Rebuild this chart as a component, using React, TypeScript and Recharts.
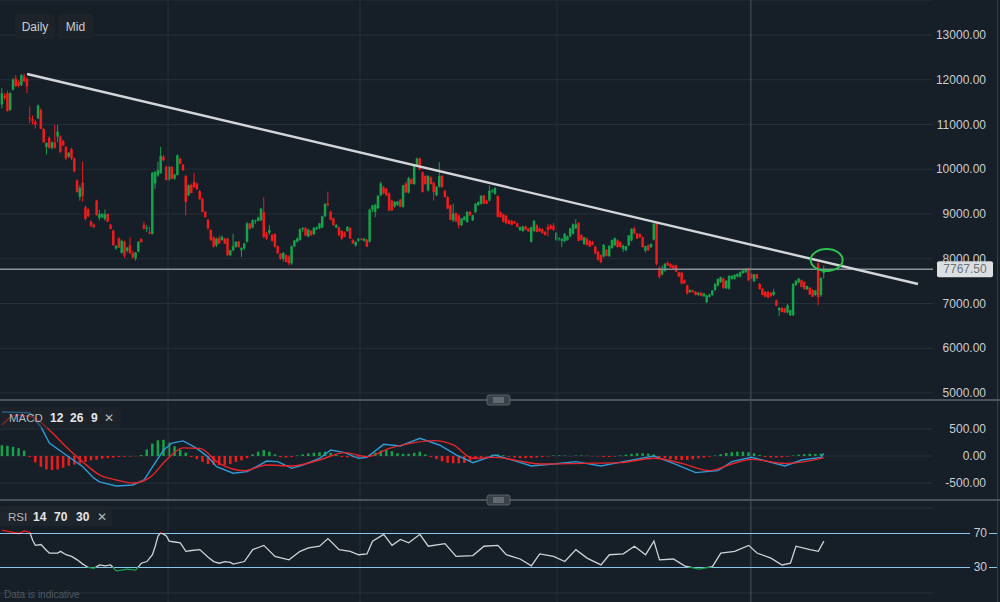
import React from "react";
import {
  ComposedChart,
  Bar,
  Line,
  XAxis,
  YAxis,
  CartesianGrid,
  ReferenceLine,
  ReferenceDot,
  Cell,
} from "recharts";

// ---- price candles (daily) ----
const OPEN = [
  11450, 11640, 11700, 11330, 11780, 12030, 11950, 11880, 12080, 12020,
  11150, 11120, 11060, 11140, 11330, 10900, 10500, 10700, 10480, 10600,
  10730, 10730, 10630, 10500, 10280, 10450, 10240, 9750, 9380, 9700,
  9150, 9100, 8830, 8760, 9300, 8910, 8930, 8890, 9000, 8760,
  8630, 8230, 8460, 8130, 8380, 8180, 8300, 8130, 8010, 8160,
  8440, 8760, 8670, 8590, 8560, 9680, 9860, 9910, 10280, 10050,
  9760, 10050, 9790, 9870, 10240, 10100, 9850, 9420, 9650, 9720,
  9680, 9510, 9340, 9050, 8870, 8640, 8480, 8300, 8460, 8420,
  8450, 8450, 8080, 8190, 8270, 8380, 8190, 8230, 8380, 8790,
  8700, 8840, 8850, 8860, 9040, 8560, 8580, 8530, 8550, 8280,
  8110, 8000, 8080, 8050, 7900, 8280, 8380, 8420, 8660, 8690,
  8500, 8620, 8550, 8660, 8680, 8700, 8950, 9230, 9050, 8900,
  8700, 8700, 8620, 8590, 8620, 8690, 8420, 8300, 8400, 8450,
  8400, 8430, 8380, 9100, 9050, 9130, 9420, 9600, 9560, 9460,
  9300, 9170, 9200, 9320, 9160, 9680, 9480, 9780, 9670, 10080,
  10240, 9930, 9850, 9530, 9820, 9700, 9420, 9610, 9850, 9520,
  9380, 9190, 8860, 9020, 8970, 8750, 8870, 8820, 9050, 8860,
  9040, 9200, 9230, 9410, 9300, 9300, 9500, 9450, 9400, 9040,
  8990, 8960, 8860, 8850, 8830, 8790, 8640, 8620, 8720, 8680,
  8380, 8620, 8750, 8680, 8660, 8600, 8710, 8750, 8740, 8420,
  8450, 8400, 8390, 8420, 8500, 8560, 8680, 8800, 8530, 8330,
  8450, 8400, 8380, 8270, 8160, 8080, 8050, 8200, 8060, 8240,
  8300, 8410, 8370, 8220, 8190, 8300, 8410, 8680, 8560, 8550,
  8480, 8180, 8300, 8260, 8430, 8800, 7800, 7650, 7730, 7910,
  7880, 7850, 7850, 7700, 7690, 7520, 7400, 7260, 7290, 7260,
  7190, 7240, 7160, 7030, 7150, 7190, 7300, 7400, 7480, 7560,
  7340, 7330, 7550, 7550, 7600, 7600, 7680, 7700, 7780, 7660,
  7500, 7650, 7440, 7330, 7260, 7260, 7240, 7190, 7070, 6850,
  6900, 6890, 6800, 6740, 6740, 7410, 7470, 7520, 7480, 7320,
  7350, 7300, 7190, 7900, 7190, 7680,
];
const HIGH = [
  11810, 11700, 11760, 11720, 12040, 12110, 11990, 12120, 12140, 12050,
  11400, 11200, 11100, 11450, 11360, 10920, 10600, 10740, 10620, 10990,
  10990, 10760, 10660, 10520, 10380, 10480, 10260, 9780, 9640, 10170,
  9190, 9130, 8860, 8790, 9320, 9090, 9020, 9100, 9010, 8780,
  8650, 8300, 8480, 8430, 8410, 8260, 8480, 8180, 8150, 8390,
  8460, 8830, 8760, 8720, 9940, 9960, 10170, 10500, 10320, 10090,
  10080, 10070, 9900, 10330, 10260, 10120, 9880, 9660, 9680, 9920,
  9700, 9540, 9360, 9070, 8890, 8660, 8500, 8470, 8520, 8520,
  8470, 8470, 8200, 8560, 8390, 8400, 8260, 8360, 8820, 8800,
  8880, 8870, 8940, 9140, 9370, 8600, 8750, 8560, 8570, 8300,
  8130, 8150, 8100, 8080, 8300, 8420, 8480, 8680, 8700, 8710,
  8670, 8640, 8710, 8720, 8800, 8960, 9240, 9500, 9080, 8920,
  8780, 8720, 8640, 8610, 8730, 8710, 8440, 8390, 8460, 8470,
  8460, 8440, 9120, 9210, 9230, 9420, 9720, 9630, 9580, 9480,
  9320, 9290, 9290, 9340, 9650, 9720, 9830, 9800, 10100, 10260,
  10260, 9950, 9870, 9870, 9840, 9720, 9620, 10160, 9870, 9540,
  9400, 9210, 9230, 9040, 8990, 8910, 8950, 9060, 9060, 8980,
  9240, 9280, 9420, 9430, 9320, 9640, 9560, 9600, 9420, 9060,
  9010, 8980, 8880, 8870, 8850, 8810, 8720, 8740, 8740, 8690,
  8720, 8860, 8770, 8700, 8680, 8620, 8780, 8770, 8800, 8600,
  8480, 8460, 8570, 8520, 8690, 8790, 8880, 8820, 8550, 8490,
  8470, 8420, 8400, 8290, 8180, 8100, 8330, 8220, 8300, 8430,
  8480, 8440, 8390, 8320, 8290, 8530, 8680, 8720, 8580, 8570,
  8500, 8290, 8320, 8340, 8800, 8810, 7830, 7850, 7900, 7940,
  7900, 7870, 7870, 7710, 7710, 7540, 7420, 7320, 7310, 7280,
  7260, 7260, 7240, 7190, 7220, 7300, 7450, 7560, 7600, 7580,
  7520, 7630, 7630, 7650, 7680, 7720, 7750, 7790, 7800, 7680,
  7660, 7670, 7460, 7350, 7280, 7280, 7260, 7330, 7090, 6920,
  6920, 6910, 6990, 6860, 7450, 7520, 7570, 7540, 7500, 7400,
  7370, 7320, 7300, 7920, 7590, 7850,
];
const LOW = [
  11360, 11550, 11290, 11300, 11760, 11840, 11830, 11860, 11940, 11700,
  11030, 11000, 10910, 11120, 10900, 10590, 10330, 10460, 10440, 10460,
  10610, 10370, 10520, 10210, 10260, 10200, 9930, 9480, 9300, 9280,
  8860, 8930, 8700, 8680, 8960, 8860, 8900, 8850, 8820, 8660,
  8290, 8200, 8240, 8120, 8020, 8140, 8100, 8000, 7960, 8140,
  8360, 8660, 8600, 8550, 8540, 9560, 9830, 9900, 10180, 9750,
  9740, 9780, 9760, 9860, 10110, 9960, 8970, 9400, 9460, 9580,
  9540, 9320, 9040, 8920, 8650, 8400, 8250, 8260, 8330, 8400,
  8330, 8060, 8060, 8170, 8240, 8250, 8040, 8200, 8360, 8660,
  8680, 8780, 8830, 8840, 8460, 8420, 8530, 8380, 8250, 8110,
  7980, 7940, 7920, 7850, 7860, 8260, 8360, 8400, 8600, 8500,
  8480, 8510, 8530, 8640, 8660, 8680, 8930, 9170, 8860, 8740,
  8680, 8500, 8420, 8480, 8600, 8440, 8330, 8270, 8380, 8410,
  8380, 8260, 8360, 9040, 8930, 9110, 9400, 9440, 9400, 9060,
  9070, 9140, 9180, 9150, 9140, 9470, 9460, 9660, 9650, 10050,
  9980, 9480, 9650, 9500, 9660, 9300, 9400, 9590, 9590, 9370,
  9110, 8860, 8820, 8820, 8680, 8730, 8850, 8800, 8960, 8840,
  9030, 9180, 9210, 9220, 9220, 9280, 9470, 9430, 8920, 8920,
  8810, 8780, 8770, 8750, 8780, 8700, 8620, 8600, 8640, 8600,
  8360, 8600, 8590, 8600, 8560, 8520, 8500, 8650, 8630, 8400,
  8400, 8260, 8370, 8400, 8480, 8540, 8660, 8390, 8400, 8310,
  8290, 8260, 8300, 8100, 7960, 7900, 8030, 8050, 8040, 8220,
  8280, 8250, 8250, 8150, 8170, 8280, 8390, 8550, 8440, 8470,
  8250, 8140, 8180, 8240, 8410, 7850, 7560, 7630, 7710, 7840,
  7800, 7770, 7700, 7590, 7430, 7440, 7200, 7240, 7240, 7180,
  7170, 7160, 7150, 7010, 7130, 7170, 7280, 7380, 7460, 7330,
  7320, 7310, 7530, 7530, 7580, 7580, 7660, 7680, 7500, 7550,
  7480, 7550, 7310, 7180, 7140, 7120, 7150, 7170, 6940, 6720,
  6800, 6790, 6780, 6720, 6720, 7390, 7450, 7360, 7310, 7300,
  7190, 7140, 7170, 6960, 7150, 7560,
];
const CLOSE = [
  11700, 11590, 11300, 11700, 12000, 11860, 11860, 12110, 11960, 11850,
  11130, 11080, 11000, 11420, 10900, 10600, 10590, 10480, 10600, 10480,
  10840, 10380, 10530, 10240, 10370, 10240, 9955, 9490, 9580, 9400,
  8890, 8950, 8740, 8710, 8980, 9000, 9000, 9000, 8830, 8670,
  8300, 8290, 8250, 8400, 8070, 8250, 8130, 8030, 8140, 8380,
  8370, 8670, 8690, 8560, 9920, 9940, 9980, 10300, 10200, 9760,
  10050, 9790, 9880, 10310, 10120, 9980, 9270, 9640, 9470, 9600,
  9550, 9330, 9045, 8930, 8680, 8420, 8270, 8450, 8340, 8490,
  8340, 8080, 8190, 8280, 8380, 8260, 8240, 8340, 8790, 8670,
  8860, 8860, 8920, 9120, 8490, 8450, 8640, 8400, 8270, 8120,
  8000, 8130, 7930, 7900, 8280, 8410, 8450, 8660, 8690, 8520,
  8650, 8530, 8690, 8700, 8790, 8950, 9230, 9200, 8870, 8750,
  8750, 8530, 8450, 8490, 8710, 8450, 8340, 8380, 8450, 8420,
  8450, 8270, 9100, 9190, 9200, 9410, 9680, 9460, 9420, 9080,
  9080, 9270, 9280, 9160, 9640, 9480, 9800, 9670, 10080, 10240,
  10000, 9490, 9670, 9850, 9670, 9490, 9610, 9850, 9600, 9380,
  9120, 8870, 9010, 8830, 8750, 8900, 8940, 9050, 8970, 8970,
  9230, 9270, 9410, 9230, 9230, 9520, 9520, 9580, 8940, 8930,
  8830, 8790, 8780, 8760, 8790, 8710, 8710, 8720, 8650, 8610,
  8710, 8850, 8600, 8610, 8570, 8530, 8640, 8670, 8640, 8580,
  8460, 8440, 8560, 8500, 8680, 8770, 8770, 8400, 8420, 8480,
  8310, 8270, 8310, 8120, 7980, 7920, 8310, 8060, 8290, 8420,
  8460, 8260, 8260, 8290, 8280, 8520, 8670, 8560, 8450, 8480,
  8260, 8280, 8190, 8330, 8780, 7890, 7600, 7780, 7890, 7850,
  7810, 7780, 7710, 7600, 7450, 7450, 7220, 7300, 7250, 7190,
  7240, 7170, 7220, 7180, 7200, 7290, 7440, 7550, 7590, 7340,
  7510, 7620, 7620, 7640, 7660, 7700, 7740, 7770, 7520, 7560,
  7650, 7560, 7320, 7190, 7150, 7130, 7160, 7260, 6950, 6900,
  6810, 6800, 6960, 6850, 7440, 7510, 7560, 7370, 7320, 7390,
  7200, 7150, 7290, 7140, 7570, 7767.5,
];

const LAST_PRICE = 7767.5;
const PRICE_TICKS = [5000, 6000, 7000, 8000, 9000, 10000, 11000, 12000, 13000];
// quarter separators (candle index)
const GRID_IDX = [59.6, 128.5, 199.2];
const CURSOR_IDX = 268.8;
// resistance trendline: [candle index, price]
const TREND_FROM = [9, 12128];
const TREND_TO = [328.8, 7436];
const CIRCLE_AT = [296, 7972];

// ---- MACD (12, 26, 9) ----
const HIST_STEP = 2;
const HIST_VAL = [
  200, 190, 170, 145, 100, -20, -120, -200, -250, -260,
  -250, -220, -180, -160, -140, -110, -80, -70, -50, -40,
  -30, -20, -15, -10, -5, 20, 120, 230, 290, 300,
  250, 180, 120, 60, -20, -60, -110, -150, -165, -170,
  -165, -150, -110, -80, -40, 30, 80, 110, 80, 30,
  -25, -30, -20, 10, 30, 50, 60, 70, 80, 60,
  20, -20, -25, -25, -20, -10, 20, 60, 100, 110,
  90, 50, 40, 40, 60, 80, 30, -20, -60, -100,
  -125, -135, -136, -130, -100, -60, -30, -10, 25, 30,
  15, -15, -30, -40, -40, -35, -30, -20, -10, 10,
  12, 8, -5, 8, 10, 5, -5, -8, -20, -20,
  -10, 10, 25, 40, 50, 50, 45, 30, -20, -40,
  -60, -70, -74, -70, -60, -45, -30, -15, 10, 35,
  55, 70, 80, 80, 70, 50, 20, -20, -30, -30,
  -25, -15, 10, 25, 35, 40, 40, 45,
];
const MACD_AT = [
  0, 10, 14, 17, 23, 29, 33, 35, 41, 47, 51, 54, 58, 61, 65, 69, 71, 74,
  77, 83, 88, 95, 99, 104, 108, 114, 118, 123, 128, 131, 137, 143, 150,
  157, 163, 169, 177, 185, 190, 197, 206, 215, 223, 234, 241, 249, 257,
  262, 269, 275, 281, 287, 294, 295,
];
const MACD_VAL = [
  815, 800, 537, 240, 18, -200, -410, -480, -555, -537, -444, -200, 110,
  240, 280, 170, 100, -20, -197, -320, -290, -93, -105, -228, -167, -43,
  111, 62, -43, -25, 216, 185, 327, 204, 19, -123, 19, -105, -185, -154,
  -105, -185, -105, 0, -136, -308, -271, -105, -25, -105, -185, -74, -25,
  49,
];
const SIGNAL_AT = [
  0, 5, 11, 17, 23, 29, 35, 41, 47, 53, 59, 65, 71, 78, 87, 95, 104, 114,
  123, 131, 139, 148, 155, 162, 169, 177, 185, 193, 208, 222, 234, 244,
  254, 262, 269, 281, 294, 295,
];
const SIGNAL_VAL = [
  575, 760, 720, 480, 170, -110, -350, -444, -500, -400, -74, 150, 142,
  -136, -271, -167, -185, -74, 62, -12, 142, 247, 284, 204, -43, -25, -86,
  -148, -136, -123, -43, -136, -271, -148, -62, -136, -43, -30,
];

// ---- RSI (14) ----
const RSI_AT = [
  0, 3, 6, 8, 10, 11, 12, 14, 16, 17, 20, 21, 23, 25, 27, 29, 31, 33, 35,
  37, 39, 41, 43, 45, 48, 50, 52, 54, 55, 56, 57, 59, 60, 62, 64, 66, 68,
  71, 74, 76, 78, 80, 82, 83, 87, 90, 94, 98, 103, 107, 110, 114, 117,
  121, 125, 128, 131, 133, 137, 140, 143, 146, 150, 153, 159, 163, 169,
  173, 178, 181, 186, 190, 193, 198, 202, 206, 210, 215, 218, 223, 227,
  231, 234, 236, 241, 245, 250, 255, 258, 263, 268, 271, 276, 280, 283,
  285, 290, 293, 295,
];
const RSI_VAL = [
  74, 72, 70, 73, 71, 62, 56, 57, 50, 47, 47, 49, 45, 43, 39, 34, 30, 29,
  33, 32, 33, 26, 27, 28, 27, 35, 37, 45, 55, 67, 71, 67, 61, 60, 59, 49,
  50, 51, 42, 37, 35, 37, 36, 34, 37, 51, 56, 43, 39, 49, 53, 55, 64, 51,
  49, 45, 46, 61, 69, 56, 63, 59, 69, 55, 58, 43, 44, 55, 56, 45, 40, 32,
  46, 43, 37, 51, 41, 33, 45, 46, 55, 45, 61, 39, 40, 32, 28, 31, 47, 49,
  56, 47, 41, 33, 35, 55, 51, 49, 61,
];

const BG = "#161e27";
const GRID = "#27303a";
const UP = "#16a24a";
const DOWN = "#ee1c1c";
const TEXT = "#c9cdd2";
const FONT = "'Liberation Sans', Arial, sans-serif";
const SPACING = 2.786;
const FIRST_X = 2;
const LABEL_RIGHT = 986;

const xDomain = (plotW: number): [number, number] => [
  -FIRST_X / SPACING,
  (plotW - FIRST_X) / SPACING,
];

function Candle(props: any) {
  const { x, y, width, height, payload } = props;
  if (x == null || y == null || height == null) return null;
  const top = Math.min(y, y + height);
  const span = Math.abs(height);
  const { o, h, l, c } = payload;
  const range = h - l || 1;
  const py = (v: number) => top + ((h - v) / range) * span;
  const cx = x + width / 2;
  const color = c >= o ? UP : DOWN;
  const bTop = py(Math.max(o, c));
  const bBot = py(Math.min(o, c));
  return (
    <g>
      <line x1={cx} x2={cx} y1={top} y2={top + span} stroke={color} strokeWidth={1} />
      <rect x={cx - 1.25} y={bTop} width={2.5} height={Math.max(1, bBot - bTop)} fill={color} />
    </g>
  );
}

const AxisTick = (props: any) => (
  <text
    x={LABEL_RIGHT}
    y={props.y}
    textAnchor="end"
    dominantBaseline="central"
    fill={TEXT}
    fontSize={12}
    fontFamily={FONT}
  >
    {Number(props.payload.value).toFixed(2)}
  </text>
);

const PriceTag = (props: any) => {
  const vb = props.viewBox;
  if (!vb) return null;
  const x = vb.x + vb.width + 4;
  return (
    <g>
      <rect x={x} y={vb.y - 8} width={56} height={16} rx={2} fill="#dde0e3" />
      <text x={x + 28} y={vb.y} textAnchor="middle" dominantBaseline="central" fontSize={12} fontFamily={FONT} fill="#6c7279">
        {LAST_PRICE.toFixed(2)}
      </text>
    </g>
  );
};

const LevelTag = (props: any) => {
  const vb = props.viewBox;
  if (!vb) return null;
  const right = vb.x + vb.width - 10;
  return (
    <g>
      <rect x={right - 17} y={vb.y - 7} width={19} height={14} fill={BG} />
      <text x={right} y={vb.y} textAnchor="end" dominantBaseline="central" fontSize={12} fontFamily={FONT} fill={TEXT}>
        {props.text}
      </text>
    </g>
  );
};

function Handle({ y }: { y: number }) {
  return (
    <g>
      <rect x={487} y={y - 5} width={23} height={10} rx={2} fill="#3a4048" stroke="#59606a" />
      <line x1={493} x2={504} y1={y - 2} y2={y - 2} stroke="#8b9199" />
      <line x1={493} x2={504} y1={y} y2={y} stroke="#8b9199" />
      <line x1={493} x2={504} y1={y + 2} y2={y + 2} stroke="#8b9199" />
    </g>
  );
}

export default function App() {
  const candles = OPEN.map((o, i) => ({ i, o, h: HIGH[i], l: LOW[i], c: CLOSE[i] }));
  const hist = HIST_VAL.map((v, k) => ({ i: k * HIST_STEP, v }));
  const macd = MACD_AT.map((i, k) => ({ i, v: MACD_VAL[k] }));
  const signal = SIGNAL_AT.map((i, k) => ({ i, v: SIGNAL_VAL[k] }));
  const rsi = RSI_AT.map((i, k) => ({ i, v: RSI_VAL[k] }));

  const rMax = Math.max(...RSI_VAL);
  const rMin = Math.min(...RSI_VAL);
  const off = (v: number) => (rMax - v) / (rMax - rMin);
  const mainDomain = xDomain(933);
  const rsiDomain = xDomain(997);

  return (
    <div
      style={{
        position: "fixed",
        left: 0,
        top: 0,
        width: 1000,
        height: 602,
        background: BG,
        overflow: "hidden",
        fontFamily: FONT,
      }}
    >
      {/* price panel */}
      <div style={{ position: "absolute", left: 0, top: 0 }}>
        <ComposedChart width={1000} height={400} data={candles} margin={{ top: 0, right: 0, bottom: 0, left: 0 }}>
          <CartesianGrid vertical={false} stroke={GRID} />
          <XAxis type="number" dataKey="i" domain={mainDomain} hide allowDataOverflow />
          <YAxis
            orientation="right"
            width={67}
            type="number"
            domain={[4844, 13782]}
            ticks={PRICE_TICKS}
            interval={0}
            allowDataOverflow
            axisLine={false}
            tickLine={false}
            tick={<AxisTick />}
          />
          {GRID_IDX.map((g) => (
            <ReferenceLine key={g} x={g} stroke={GRID} />
          ))}
          <ReferenceLine x={CURSOR_IDX} stroke="#4c5560" />
          <Bar
            dataKey={(d: any) => [d.l, d.h]}
            barSize={3}
            shape={<Candle />}
            isAnimationActive={false}
          />
          <ReferenceLine y={LAST_PRICE} stroke="#8b9197" strokeWidth={1.5} label={<PriceTag />} />
          <ReferenceLine
            segment={[
              { x: TREND_FROM[0], y: TREND_FROM[1] },
              { x: TREND_TO[0], y: TREND_TO[1] },
            ]}
            stroke="#d3d6d9"
            strokeWidth={2.4}
            ifOverflow="visible"
          />
          <ReferenceDot
            x={CIRCLE_AT[0]}
            y={CIRCLE_AT[1]}
            r={10}
            shape={(p: any) => (
              <ellipse cx={p.cx} cy={p.cy} rx={16} ry={11} fill="none" stroke="#2cc24f" strokeWidth={2} />
            )}
          />
        </ComposedChart>
      </div>

      {/* MACD panel */}
      <div style={{ position: "absolute", left: 0, top: 400 }}>
        <ComposedChart width={1000} height={100} data={hist} margin={{ top: 0, right: 0, bottom: 0, left: 0 }}>
          <CartesianGrid vertical={false} stroke={GRID} />
          <XAxis type="number" dataKey="i" domain={mainDomain} hide allowDataOverflow />
          <YAxis
            orientation="right"
            width={67}
            type="number"
            domain={[-815, 1037]}
            ticks={[-500, 0, 500]}
            interval={0}
            allowDataOverflow
            axisLine={false}
            tickLine={false}
            tick={<AxisTick />}
          />
          {GRID_IDX.map((g) => (
            <ReferenceLine key={g} x={g} stroke={GRID} />
          ))}
          <ReferenceLine x={CURSOR_IDX} stroke="#4c5560" />
          <Bar dataKey="v" barSize={4} isAnimationActive={false}>
            {hist.map((d) => (
              <Cell key={d.i} fill={d.v >= 0 ? UP : DOWN} />
            ))}
          </Bar>
          <Line data={macd} dataKey="v" type="linear" stroke="#2f9ad6" strokeWidth={1.4} dot={false} isAnimationActive={false} />
          <Line data={signal} dataKey="v" type="monotone" stroke="#e8262a" strokeWidth={1.4} dot={false} isAnimationActive={false} />
        </ComposedChart>
      </div>

      {/* RSI panel */}
      <div style={{ position: "absolute", left: 0, top: 500 }}>
        <ComposedChart width={1000} height={102} data={rsi} margin={{ top: 0, right: 3, bottom: 0, left: 0 }}>
          <defs>
            <linearGradient id="rsiStroke" x1="0" y1="0" x2="0" y2="1">
              <stop offset={off(70)} stopColor={DOWN} />
              <stop offset={off(70)} stopColor="#cfd2d6" />
              <stop offset={off(30)} stopColor="#cfd2d6" />
              <stop offset={off(30)} stopColor={UP} />
            </linearGradient>
          </defs>
          <XAxis type="number" dataKey="i" domain={rsiDomain} hide allowDataOverflow />
          <YAxis type="number" domain={[-10.6, 109.4]} hide allowDataOverflow />
          {[0, 100].map((v) => (
            <ReferenceLine
              key={v}
              segment={[
                { x: rsiDomain[0], y: v },
                { x: mainDomain[1], y: v },
              ]}
              stroke={GRID}
            />
          ))}
          {GRID_IDX.map((g) => (
            <ReferenceLine key={g} x={g} stroke={GRID} />
          ))}
          <ReferenceLine x={CURSOR_IDX} stroke="#4c5560" />
          <ReferenceLine y={70} stroke="#8cc6ec" strokeWidth={1.2} label={<LevelTag text="70" />} />
          <ReferenceLine y={30} stroke="#8cc6ec" strokeWidth={1.2} label={<LevelTag text="30" />} />
          <Line dataKey="v" type="linear" stroke="url(#rsiStroke)" strokeWidth={1.3} dot={false} isAnimationActive={false} />
        </ComposedChart>
      </div>

      {/* chrome: separators, buttons, indicator labels */}
      <svg width={1000} height={602} style={{ position: "absolute", left: 0, top: 0, pointerEvents: "none" }}>
        <line x1={997.5} x2={997.5} y1={0} y2={602} stroke="#353e48" />
        <line x1={0} x2={1000} y1={400} y2={400} stroke="#4a525b" strokeWidth={2} />
        <line x1={0} x2={1000} y1={500} y2={500} stroke="#4a525b" strokeWidth={2} />
        <Handle y={400} />
        <Handle y={500} />

        <rect x={15} y={14} width={40} height={25} rx={2} fill="#1e2329" />
        <text x={35} y={27} textAnchor="middle" dominantBaseline="central" fontSize={12} fill={TEXT} fontFamily={FONT}>
          Daily
        </text>
        <rect x={58} y={14} width={35} height={25} rx={2} fill="#1e2329" />
        <text x={75.5} y={27} textAnchor="middle" dominantBaseline="central" fontSize={12} fill={TEXT} fontFamily={FONT}>
          Mid
        </text>

        <rect x={0} y={407} width={121} height={21} rx={2} fill="rgba(32,38,45,0.55)" />
        <text y={418} dominantBaseline="central" fontSize={12} fontFamily={FONT}>
          <tspan x={9} fill="#b3b8bd" fontSize={11.5}>MACD</tspan>
          <tspan x={50} fill="#e4e6e8" fontWeight="bold">12</tspan>
          <tspan x={70} fill="#e4e6e8" fontWeight="bold">26</tspan>
          <tspan x={91} fill="#e4e6e8" fontWeight="bold">9</tspan>
          <tspan x={104} fill="#b3b8bd">✕</tspan>
        </text>

        <rect x={0} y={506} width={112} height={20} rx={2} fill="rgba(32,38,45,0.8)" />
        <text y={516.5} dominantBaseline="central" fontSize={12} fontFamily={FONT}>
          <tspan x={8} fill="#b3b8bd" fontSize={11.5}>RSI</tspan>
          <tspan x={33} fill="#e4e6e8" fontWeight="bold">14</tspan>
          <tspan x={54} fill="#e4e6e8" fontWeight="bold">70</tspan>
          <tspan x={76} fill="#e4e6e8" fontWeight="bold">30</tspan>
          <tspan x={97} fill="#b3b8bd">✕</tspan>
        </text>

        <text x={4} y={594} dominantBaseline="central" fontSize={10} fill="#4f5963" fontFamily={FONT}>
          Data is indicative
        </text>
      </svg>
    </div>
  );
}
